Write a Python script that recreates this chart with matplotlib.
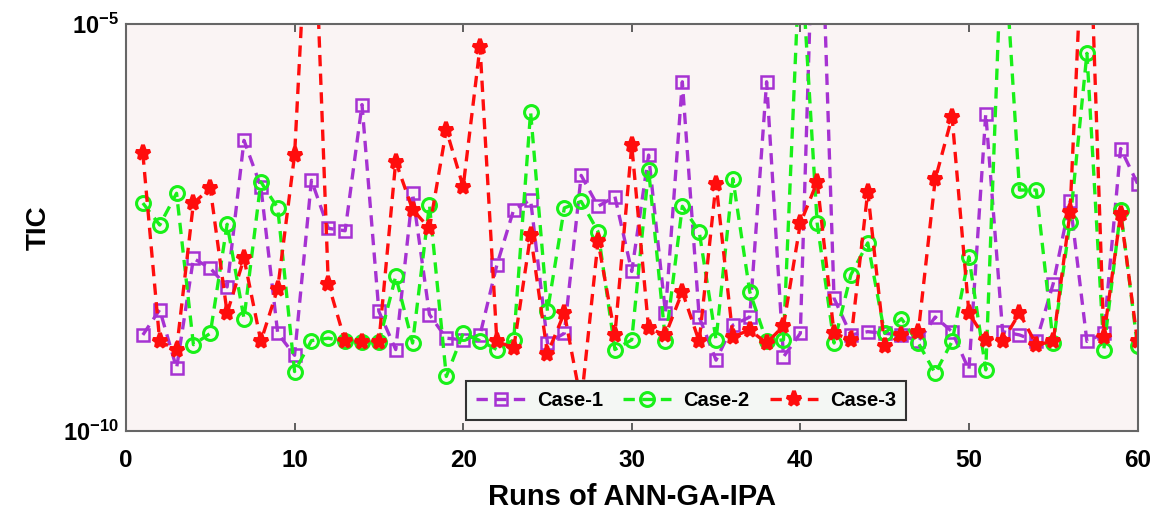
import matplotlib
matplotlib.use("Agg")
import matplotlib.pyplot as plt
import matplotlib.ticker as mticker
import numpy as np

runs = list(range(1, 61))

# log10(TIC) values
case1_log = [-8.82, -8.51, -9.23, -7.88, -8.00, -8.23, -6.43, -7.00, -8.80, -9.07,
             -6.92, -7.51, -7.54, -5.99, -8.53, -9.00, -7.08, -8.57, -8.86, -8.88,
             -8.82, -7.96, -7.28, -7.16, -8.92, -8.80, -6.86, -7.24, -7.12, -8.04,
             -6.61, -8.55, -5.71, -8.60, -9.13, -8.70, -8.60, -5.71, -9.09, -8.80,
             -2.00, -8.37, -8.82, -8.78, -8.80, -8.82, -8.90, -8.60, -8.78, -9.25,
             -6.10, -8.78, -8.82, -8.90, -8.19, -7.18, -8.90, -8.80, -6.53, -6.96]
case2_log = [-7.20, -7.47, -7.08, -8.94, -8.80, -7.46, -8.62, -6.94, -7.26, -9.27,
             -8.89, -8.86, -8.90, -8.91, -8.91, -8.10, -8.92, -7.22, -9.33, -8.80,
             -8.89, -9.00, -8.88, -6.08, -8.53, -7.26, -7.18, -7.55, -9.00, -8.88,
             -6.79, -8.90, -7.24, -7.55, -8.88, -6.90, -8.29, -8.90, -8.88, -4.00,
             -7.45, -8.92, -8.08, -7.69, -8.80, -8.62, -8.92, -9.29, -8.90, -7.86,
             -9.25, -3.70, -7.04, -7.04, -8.92, -7.43, -5.36, -9.00, -7.29, -8.96]
case3_log = [-6.59, -8.90, -9.00, -7.20, -7.02, -8.55, -7.88, -8.90, -8.25, -6.61,
             -2.60, -8.19, -8.90, -8.91, -8.91, -6.69, -7.28, -7.51, -6.30, -7.00,
             -5.28, -8.90, -8.98, -7.59, -9.05, -8.55, -9.65, -7.67, -8.82, -6.49,
             -8.74, -8.82, -8.29, -8.90, -6.96, -8.84, -8.76, -8.92, -8.71, -7.45,
             -6.94, -8.80, -8.88, -7.06, -8.96, -8.82, -8.78, -6.91, -6.14, -8.55,
             -8.88, -8.90, -8.55, -8.94, -8.90, -7.31, -2.70, -8.84, -7.33, -8.90]

labels = ["Case-1", "Case-2", "Case-3"]
x_ticks = [0, 10, 20, 30, 40, 50, 60]
y_ticks = [1e-10, 1e-5]
y_ticklabels = [r"$\mathbf{10^{-10}}$", r"$\mathbf{10^{-5}}$"]

plt.rcParams["mathtext.fontset"] = "custom"
plt.rcParams["mathtext.bf"] = "Liberation Sans:bold"
plt.rcParams["mathtext.rm"] = "Liberation Sans"

fam = ["Liberation Sans", "DejaVu Sans"]

fig = plt.figure(figsize=(11.58, 5.19), dpi=100)
ax = fig.add_axes([0.1088, 0.1696, 0.8735, 0.7842])
ax.set_facecolor("#faf4f4")

c1 = 10.0 ** np.array(case1_log)
c2 = 10.0 ** np.array(case2_log)
c3 = 10.0 ** np.array(case3_log)

ax.plot(runs, c1, linestyle="--", dashes=(3.4, 2.2), color="#a632d2", lw=2.4,
        marker="s", ms=8, mfc="none", mec="#a632d2", mew=1.8, label=labels[0])
ax.plot(runs, c2, linestyle="--", dashes=(3.4, 2.2), color="#19f019", lw=2.4,
        marker="o", ms=10, mfc="none", mec="#19f019", mew=2.2, label=labels[1])
ax.plot(runs, c3, linestyle="--", dashes=(3.4, 2.2), color="#ff0d0d", lw=2.4,
        marker="*", ms=11, mfc="#ff0d0d", mec="#ff0d0d", mew=2.8, label=labels[2])

ax.set_yscale("log")
ax.set_xlim(0, 60)
ax.set_ylim(1e-10, 1e-5)
ax.set_xticks(x_ticks)
ax.set_xticklabels([str(t) for t in x_ticks], fontsize=17.5, fontweight="bold", family=fam)
ax.yaxis.set_major_locator(mticker.FixedLocator(y_ticks))
ax.yaxis.set_minor_locator(mticker.NullLocator())
ax.set_yticklabels(y_ticklabels, fontsize=17)
ax.tick_params(axis="x", direction="in", top=True, length=6, width=1.2, color="#444444", pad=13)
ax.tick_params(axis="y", direction="in", length=0, pad=5)

for s in ax.spines.values():
    s.set_color("#666666")
    s.set_linewidth(1.5)

ax.set_xlabel("Runs of ANN-GA-IPA", fontsize=21, fontweight="bold", family=fam, labelpad=8)
ax.set_ylabel("TIC", fontsize=20, fontweight="bold", family=fam, labelpad=8)

leg = ax.legend(loc="lower center", bbox_to_anchor=(0.554, 0.027), ncol=3,
                prop={"weight": "bold", "size": 14.5, "family": fam},
                fancybox=False, framealpha=1, facecolor="#f4f7f4", edgecolor="#333333",
                handlelength=2.4, columnspacing=1.0, borderpad=0.5, handletextpad=0.6,
                borderaxespad=0)
leg.get_frame().set_linewidth(1.5)

fig.savefig("out.png", dpi=100, facecolor="white")
